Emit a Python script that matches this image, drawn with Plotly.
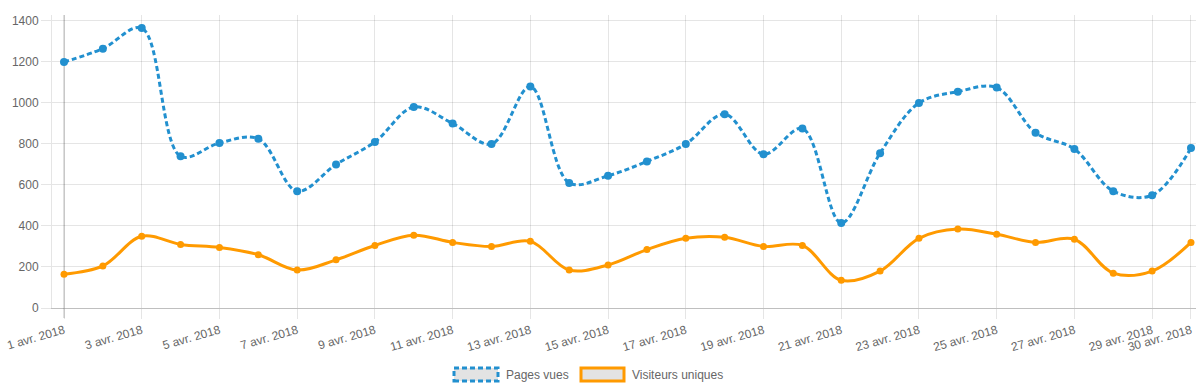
import pandas as pd
import plotly.graph_objects as go

# ---- data ----
dates = pd.date_range("2018-04-01", periods=30, freq="D")
pages_vues = [1200, 1265, 1365, 740, 805, 825, 570, 700, 810, 980,
              900, 800, 1080, 610, 645, 715, 800, 945, 750, 875,
              415, 755, 1000, 1055, 1075, 855, 775, 570, 550, 780]
visiteurs_uniques = [165, 205, 350, 310, 295, 260, 185, 235, 305, 355,
                     320, 300, 325, 185, 210, 285, 340, 345, 300, 305,
                     135, 180, 340, 385, 360, 320, 335, 170, 180, 320]
series_names = ["Pages vues", "Visiteurs uniques"]
y_ticks = [0, 200, 400, 600, 800, 1000, 1200, 1400]
tick_dates = list(dates[::2]) + [dates[-1]]
tick_labels = [f"{d.day} avr. 2018" for d in tick_dates]

# ---- style ----
W, H = 1200, 389
ML, MR, MT, MB = 52, 4, 15, 81
PW, PH = W - ML - MR, H - MT - MB
BLUE = "#2290cf"
ORANGE = "#ff9a00"
GRID = "rgba(0,0,0,0.1)"
ZERO = "rgba(0,0,0,0.25)"
FONT = dict(family="Liberation Sans, Arial, Helvetica, sans-serif", size=12, color="#666666")

def px_x(p):
    return (p - ML) / PW

def px_y(p):
    return (H - MB - p) / PH

fig = go.Figure()
fig.add_trace(go.Scatter(
    x=dates, y=pages_vues, name=series_names[0], mode="lines+markers",
    line=dict(color=BLUE, width=3, dash="5px,3px", shape="spline", smoothing=1.0),
    marker=dict(color=BLUE, size=8), showlegend=False, cliponaxis=False))
fig.add_trace(go.Scatter(
    x=dates, y=visiteurs_uniques, name=series_names[1], mode="lines+markers",
    line=dict(color=ORANGE, width=3, shape="spline", smoothing=1.0),
    marker=dict(color=ORANGE, size=7), showlegend=False, cliponaxis=False))

day = pd.Timedelta(days=1)
x_start = dates[0] - 0.309 * day
x_end = dates[-1] + 0.129 * day

fig.update_layout(
    width=W, height=H,
    margin=dict(l=ML, r=MR, t=MT, b=MB, autoexpand=False),
    paper_bgcolor="white", plot_bgcolor="white",
    font=FONT,
    xaxis=dict(type="date", range=[x_start, x_end], tickvals=tick_dates, ticktext=tick_labels,
               tickangle=-16, showgrid=True, gridcolor=GRID, gridwidth=1,
               ticks="outside", ticklen=10, tickcolor=GRID, showline=True,
               linecolor=ZERO, linewidth=1, zeroline=False, tickfont=FONT, automargin=False),
    yaxis=dict(range=[0, 1429], tickvals=y_ticks, showgrid=True, gridcolor=GRID,
               ticks="outside", ticklen=10, tickcolor=GRID, showline=True,
               linecolor=GRID, zeroline=False, tickfont=FONT, automargin=False),
    shapes=[
        dict(type="line", xref="x", yref="paper", x0=dates[0], x1=dates[0],
             y0=-10 / PH, y1=1, line=dict(color=ZERO, width=1), layer="below"),
        dict(type="rect", xref="paper", yref="paper",
             x0=px_x(454), x1=px_x(498), y0=px_y(381), y1=px_y(368),
             fillcolor="#e3e3e3", line=dict(color=BLUE, width=3, dash="5px,3px")),
        dict(type="rect", xref="paper", yref="paper",
             x0=px_x(581), x1=px_x(624), y0=px_y(381), y1=px_y(368),
             fillcolor="#e3e3e3", line=dict(color=ORANGE, width=3)),
    ],
    annotations=[
        dict(xref="paper", yref="paper", x=px_x(504), y=px_y(374.5), text=series_names[0],
             showarrow=False, xanchor="left", yanchor="middle", font=FONT),
        dict(xref="paper", yref="paper", x=px_x(630), y=px_y(374.5), text=series_names[1],
             showarrow=False, xanchor="left", yanchor="middle", font=FONT),
    ],
)

fig.write_html("out.html", config={"displayModeBar": False},
               post_script="document.body.style.margin='0';document.body.style.padding='0';")
